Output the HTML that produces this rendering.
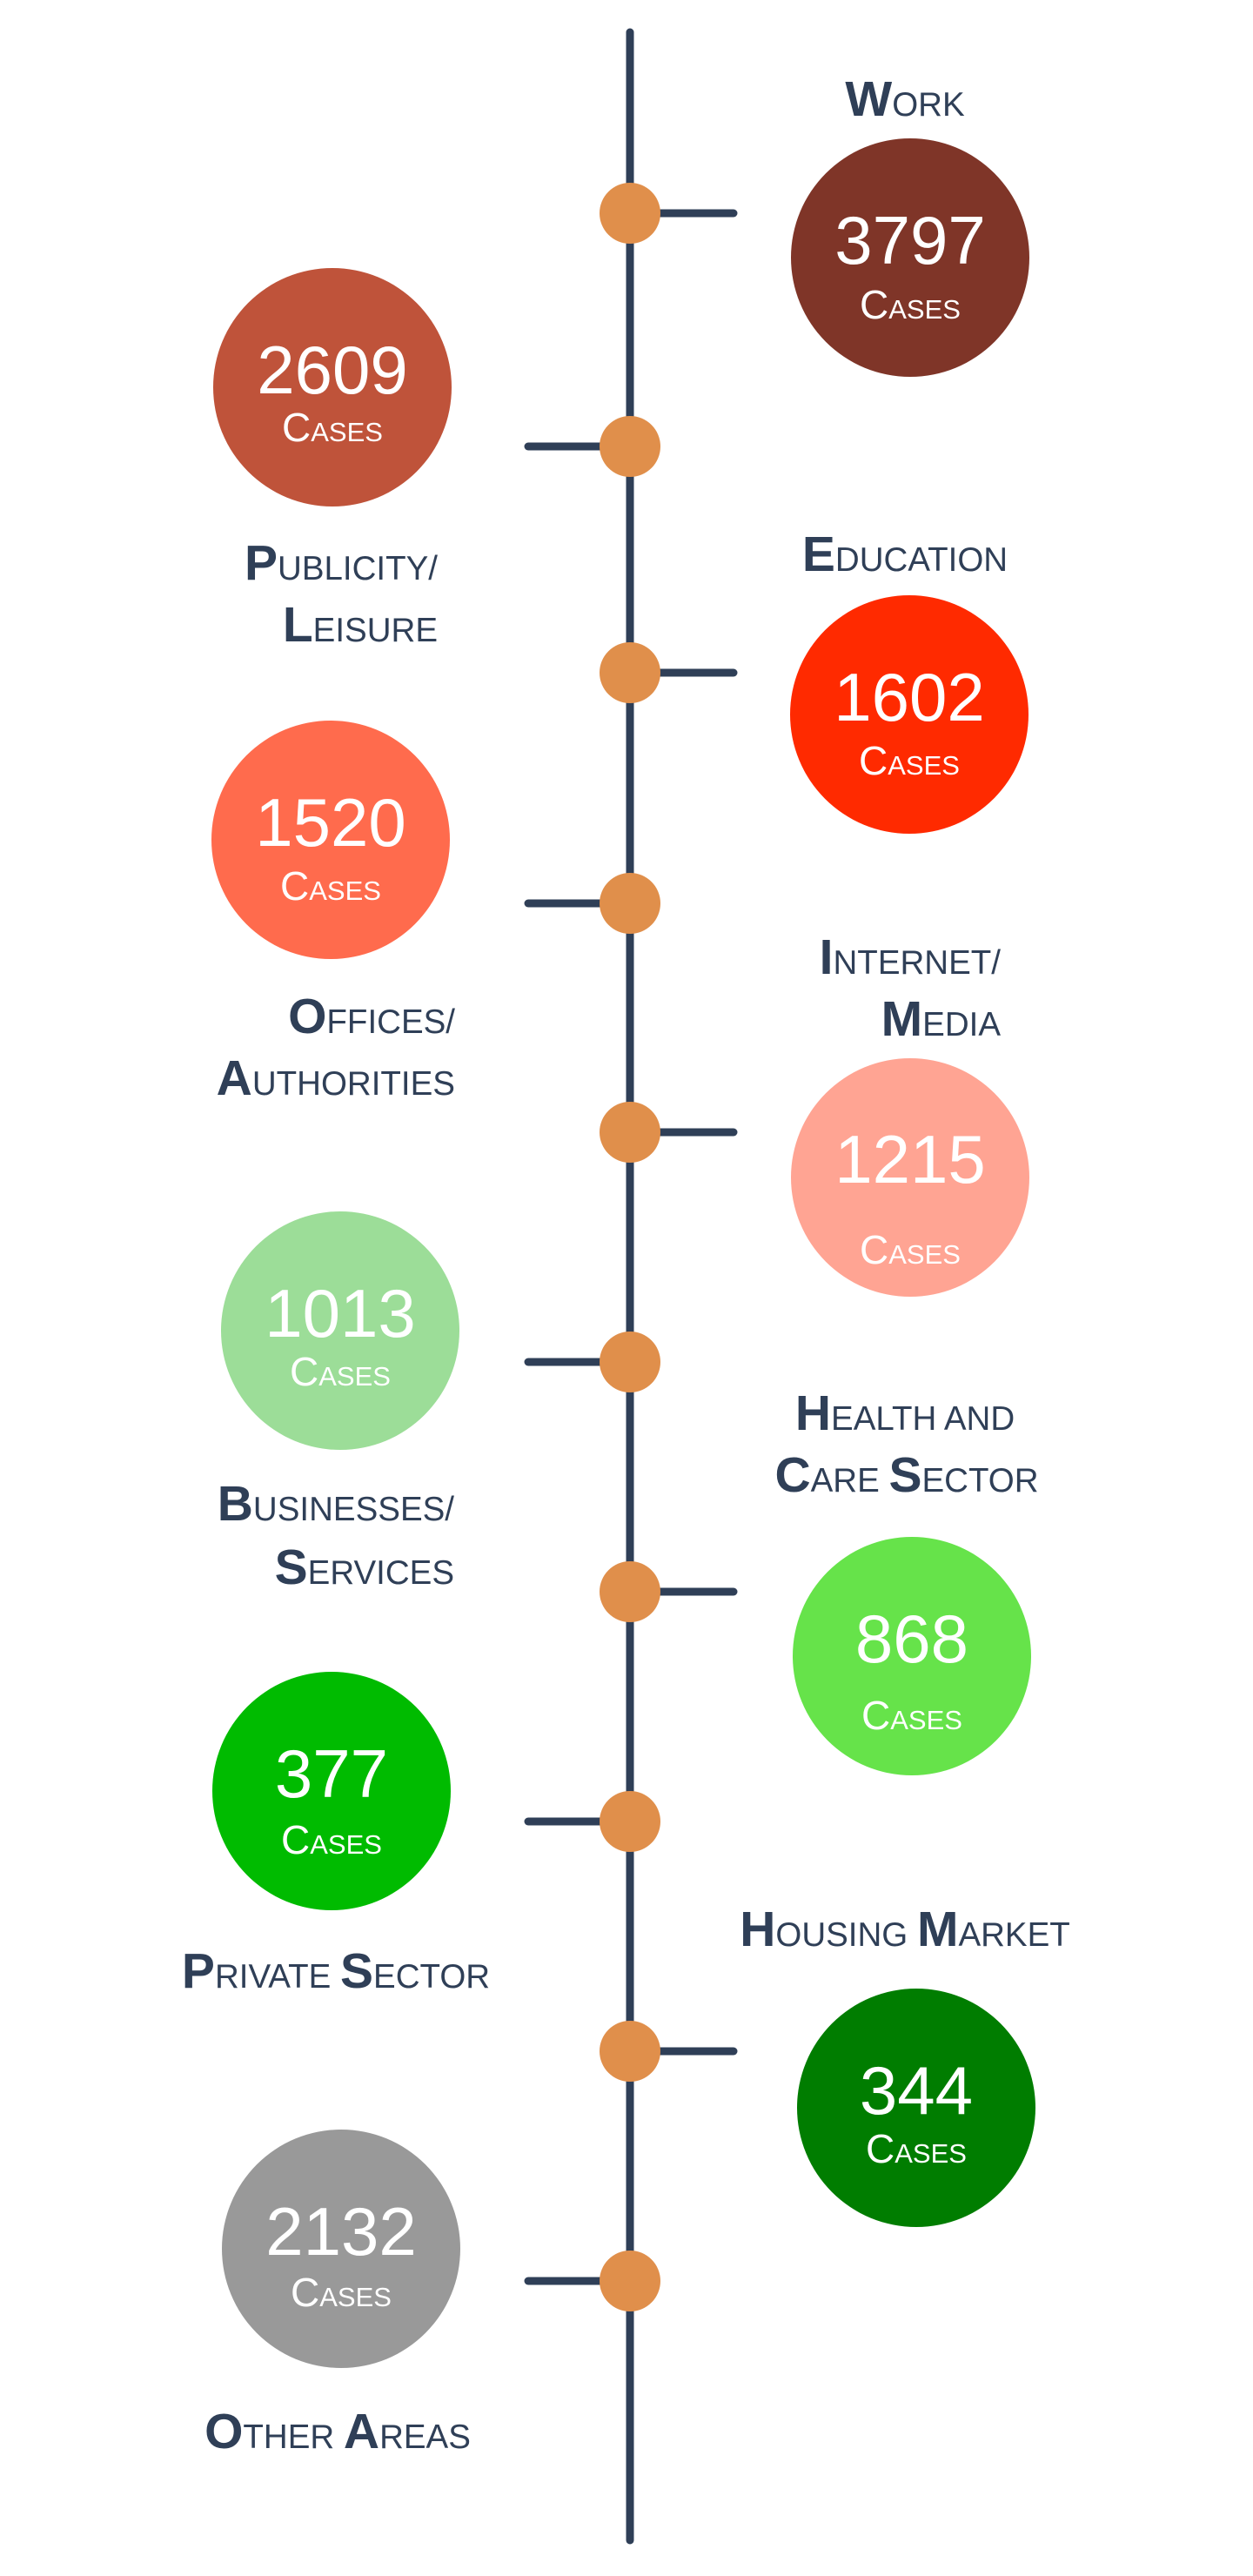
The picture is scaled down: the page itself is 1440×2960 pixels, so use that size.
<!DOCTYPE html>
<html><head><meta charset="utf-8"><style>
html,body{margin:0;padding:0;background:#fff;}
svg{display:block;}
.l{font-family:"Liberation Sans",sans-serif;fill:#2f3f57;font-size:38.5px;}
.l .c{font-size:57px;font-weight:bold;}
.n{font-family:"Liberation Sans",sans-serif;fill:#fff;font-size:78px;text-anchor:middle;}
.k{font-family:"Liberation Sans",sans-serif;fill:#fff;font-size:31px;text-anchor:middle;}
.k .c{font-size:46px;}
</style></head><body>
<svg width="1440" height="2960" viewBox="0 0 1440 2960" xmlns="http://www.w3.org/2000/svg">
<g stroke="#2f3f57" stroke-width="9" stroke-linecap="round">
<line x1="724" y1="37" x2="724" y2="2919"/>
<line x1="724" y1="245" x2="843" y2="245"/>
<line x1="607" y1="513" x2="724" y2="513"/>
<line x1="724" y1="773" x2="843" y2="773"/>
<line x1="607" y1="1038" x2="724" y2="1038"/>
<line x1="724" y1="1301" x2="843" y2="1301"/>
<line x1="607" y1="1565" x2="724" y2="1565"/>
<line x1="724" y1="1829" x2="843" y2="1829"/>
<line x1="607" y1="2093" x2="724" y2="2093"/>
<line x1="724" y1="2357" x2="843" y2="2357"/>
<line x1="607" y1="2621" x2="724" y2="2621"/>
</g>
<g fill="#e08f4b">
<circle cx="724" cy="245" r="35"/><circle cx="724" cy="513" r="35"/>
<circle cx="724" cy="773" r="35"/><circle cx="724" cy="1038" r="35"/>
<circle cx="724" cy="1301" r="35"/><circle cx="724" cy="1565" r="35"/>
<circle cx="724" cy="1829" r="35"/><circle cx="724" cy="2093" r="35"/>
<circle cx="724" cy="2357" r="35"/><circle cx="724" cy="2621" r="35"/>
</g>
<circle cx="1046" cy="296" r="137" fill="#7f3528"/>
<circle cx="382" cy="445" r="137" fill="#bf533a"/>
<circle cx="1045" cy="821" r="137" fill="#ff2a00"/>
<circle cx="380" cy="965" r="137" fill="#ff6b4d"/>
<circle cx="1046" cy="1353" r="137" fill="#ffa493"/>
<circle cx="391" cy="1529" r="137" fill="#9cdd98"/>
<circle cx="1048" cy="1903" r="137" fill="#66e34a"/>
<circle cx="381" cy="2058" r="137" fill="#00bb00"/>
<circle cx="1053" cy="2422" r="137" fill="#007d00"/>
<circle cx="392" cy="2584" r="137" fill="#999999"/>

<text class="n" x="1046" y="303">3797</text><text class="k" x="1046" y="366"><tspan class="c">C</tspan>ASES</text>
<text class="n" x="382" y="452">2609</text><text class="k" x="382" y="507"><tspan class="c">C</tspan>ASES</text>
<text class="n" x="1045" y="828">1602</text><text class="k" x="1045" y="890"><tspan class="c">C</tspan>ASES</text>
<text class="n" x="380" y="972">1520</text><text class="k" x="380" y="1034"><tspan class="c">C</tspan>ASES</text>
<text class="n" x="1046" y="1359">1215</text><text class="k" x="1046" y="1452"><tspan class="c">C</tspan>ASES</text>
<text class="n" x="391" y="1536">1013</text><text class="k" x="391" y="1592"><tspan class="c">C</tspan>ASES</text>
<text class="n" x="1048" y="1910">868</text><text class="k" x="1048" y="1987"><tspan class="c">C</tspan>ASES</text>
<text class="n" x="381" y="2065">377</text><text class="k" x="381" y="2130"><tspan class="c">C</tspan>ASES</text>
<text class="n" x="1053" y="2429">344</text><text class="k" x="1053" y="2485"><tspan class="c">C</tspan>ASES</text>
<text class="n" x="392" y="2591">2132</text><text class="k" x="392" y="2650"><tspan class="c">C</tspan>ASES</text>

<text class="l" x="1040" y="133" text-anchor="middle"><tspan class="c">W</tspan>ORK</text>
<text class="l" x="503" y="666" text-anchor="end"><tspan class="c">P</tspan>UBLICITY/</text>
<text class="l" x="503" y="737" text-anchor="end"><tspan class="c">L</tspan>EISURE</text>
<text class="l" x="1040" y="656" text-anchor="middle"><tspan class="c">E</tspan>DUCATION</text>
<text class="l" x="523" y="1187" text-anchor="end"><tspan class="c">O</tspan>FFICES/</text>
<text class="l" x="523" y="1258" text-anchor="end"><tspan class="c">A</tspan>UTHORITIES</text>
<text class="l" x="1150" y="1119" text-anchor="end"><tspan class="c">I</tspan>NTERNET/</text>
<text class="l" x="1150" y="1190" text-anchor="end"><tspan class="c">M</tspan>EDIA</text>
<text class="l" x="522" y="1747" text-anchor="end"><tspan class="c">B</tspan>USINESSES/</text>
<text class="l" x="522" y="1820" text-anchor="end"><tspan class="c">S</tspan>ERVICES</text>
<text class="l" x="1040" y="1643" text-anchor="middle"><tspan class="c">H</tspan>EALTH AND</text>
<text class="l" x="1042" y="1714" text-anchor="middle"><tspan class="c">C</tspan>ARE <tspan class="c">S</tspan>ECTOR</text>
<text class="l" x="386" y="2284" text-anchor="middle"><tspan class="c">P</tspan>RIVATE <tspan class="c">S</tspan>ECTOR</text>
<text class="l" x="1040" y="2236" text-anchor="middle"><tspan class="c">H</tspan>OUSING <tspan class="c">M</tspan>ARKET</text>
<text class="l" x="388" y="2813" text-anchor="middle"><tspan class="c">O</tspan>THER <tspan class="c">A</tspan>REAS</text>
</svg>
</body></html>
